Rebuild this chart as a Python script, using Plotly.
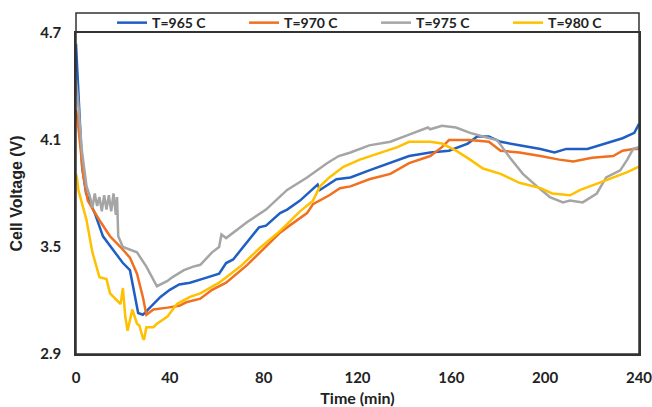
import plotly.graph_objects as go

# ---- data ----
t965 = [0, 0.7, 1.7, 2.6, 4.3, 6, 8, 11.5, 16, 20, 23, 25, 26.5, 28.5, 31.5, 36, 40, 44, 48.6, 53, 56, 61, 64, 67, 73, 78, 81, 87, 90, 95.5, 103, 104, 111, 117, 125, 134, 142, 151, 159, 167, 171, 176, 181, 189, 198, 204, 209, 218, 226, 233, 238, 240]
v965 = [4.64, 4.45, 4.14, 3.95, 3.80, 3.75, 3.69, 3.56, 3.48, 3.41, 3.37, 3.22, 3.13, 3.12, 3.16, 3.22, 3.26, 3.29, 3.30, 3.32, 3.33, 3.35, 3.41, 3.43, 3.53, 3.61, 3.62, 3.69, 3.71, 3.76, 3.85, 3.82, 3.88, 3.89, 3.93, 3.97, 4.01, 4.03, 4.04, 4.08, 4.12, 4.12, 4.09, 4.07, 4.05, 4.03, 4.05, 4.05, 4.08, 4.11, 4.14, 4.19]

t970 = [0, 0.8, 3, 5, 10, 14.5, 19, 23, 26, 28.5, 30, 33, 39, 44, 47, 53, 58, 64, 73, 81, 87, 90, 98.5, 101, 104, 108, 112.5, 117, 125, 134, 142, 151, 156, 159, 168, 176, 181, 189, 198, 206, 212, 220, 229, 233, 237.5, 240]
v970 = [4.27, 4.20, 3.91, 3.76, 3.65, 3.56, 3.50, 3.44, 3.35, 3.22, 3.12, 3.15, 3.16, 3.17, 3.19, 3.21, 3.26, 3.30, 3.40, 3.50, 3.58, 3.61, 3.69, 3.74, 3.76, 3.79, 3.83, 3.84, 3.88, 3.91, 3.97, 4.01, 4.06, 4.10, 4.10, 4.09, 4.04, 4.03, 4.01, 3.99, 3.98, 4.00, 4.01, 4.04, 4.05, 4.05]

t975 = [0, 0.8, 2.5, 4.5, 6, 7, 8, 9, 10, 11, 12, 13, 14, 15, 16, 17, 17.5, 18, 20, 26, 30, 34.5, 39, 41, 46, 50, 53, 58, 61, 62, 64, 73, 81, 90, 98.5, 107, 112, 117, 125, 134, 142, 150, 151, 156, 162, 168, 173.5, 179.5, 185, 190.5, 196.5, 202, 207.6, 210.6, 216, 222, 226, 232, 235, 237.5, 240]
v975 = [4.44, 4.33, 4.04, 3.84, 3.78, 3.72, 3.80, 3.73, 3.78, 3.70, 3.79, 3.71, 3.79, 3.70, 3.80, 3.68, 3.78, 3.56, 3.50, 3.47, 3.39, 3.28, 3.31, 3.33, 3.37, 3.39, 3.40, 3.47, 3.50, 3.57, 3.55, 3.64, 3.71, 3.82, 3.89, 3.97, 4.01, 4.03, 4.07, 4.09, 4.13, 4.17, 4.16, 4.18, 4.17, 4.14, 4.12, 4.10, 4.00, 3.91, 3.84, 3.78, 3.75, 3.76, 3.75, 3.80, 3.89, 3.93, 3.99, 4.05, 4.06]

t980 = [0, 0.5, 1, 4.5, 7, 10, 13, 14.5, 17.5, 19, 20, 21, 22, 24, 26, 27, 28.5, 29, 30, 33, 34.5, 39, 43, 48.6, 53, 61, 70, 78, 87, 95.5, 101, 104, 108, 114, 121, 129.6, 137, 142, 151, 156, 162, 168, 173.5, 181, 189, 198, 203, 210.6, 215, 223, 229, 235, 240]
v980 = [3.91, 3.88, 3.82, 3.65, 3.47, 3.33, 3.32, 3.24, 3.20, 3.18, 3.27, 3.11, 3.03, 3.15, 3.07, 3.06, 2.99, 2.98, 3.05, 3.05, 3.07, 3.11, 3.18, 3.22, 3.24, 3.30, 3.39, 3.49, 3.59, 3.70, 3.76, 3.84, 3.89, 3.95, 3.99, 4.03, 4.06, 4.09, 4.09, 4.08, 4.04, 3.99, 3.94, 3.91, 3.86, 3.83, 3.80, 3.79, 3.82, 3.86, 3.89, 3.92, 3.95]

series = [
    ("T=965 C", t965, v965, "#1F5FC4"),
    ("T=970 C", t970, v970, "#F07020"),
    ("T=975 C", t975, v975, "#A5A5A5"),
    ("T=980 C", t980, v980, "#FFC000"),
]

x_ticks = [0, 40, 80, 120, 160, 200, 240]
y_ticks = [2.9, 3.5, 4.1, 4.7]

fig = go.Figure()
for name, t, v, c in series:
    fig.add_trace(go.Scatter(x=t, y=v, name=name, mode="lines",
                             line=dict(color=c, width=2.5)))

font_family = "Lato, 'Open Sans', sans-serif"
fig.update_layout(
    width=652, height=407,
    margin=dict(l=76, r=13, t=33, b=53, autoexpand=False),
    paper_bgcolor="white", plot_bgcolor="white",
    showlegend=True,
    legend=dict(orientation="h", x=0.064, xanchor="left", y=1.031, yanchor="middle",
                font=dict(family=font_family, size=14, color="#222", weight="bold"),
                entrywidth=87, itemwidth=30, tracegroupgap=0, bgcolor="rgba(0,0,0,0)"),
    font=dict(family=font_family, color="#222"),
)
fig.update_xaxes(range=[0, 240], tickvals=x_ticks, showgrid=False, zeroline=False,
                 showline=True, linecolor="#333", linewidth=1.5, mirror=True,
                 ticks="outside", ticklen=9, tickcolor="rgba(0,0,0,0)", automargin=False,
                 ticklabeloverflow="allow",
                 tickfont=dict(family=font_family, size=15, color="#222", weight="bold"),
                 title=dict(text="<b>Time (min)</b>", standoff=9,
                            font=dict(family=font_family, size=16, color="#222")))
fig.update_yaxes(range=[2.9, 4.7], tickvals=y_ticks, ticktext=[f"{v:.1f}" for v in y_ticks],
                 showgrid=False, zeroline=False,
                 showline=True, linecolor="#333", linewidth=1.5, mirror=True,
                 ticks="outside", ticklen=10, tickcolor="rgba(0,0,0,0)", automargin=False,
                 ticklabeloverflow="allow",
                 tickfont=dict(family=font_family, size=15, color="#222", weight="bold"),
                 title=dict(text="<b>Cell Voltage (V)</b>", standoff=14,
                            font=dict(family="Liberation Sans, Arial, sans-serif", size=16, color="#222")))
# outer frame enclosing legend strip
fig.add_shape(type="rect", xref="paper", yref="paper", x0=0, x1=1, y0=0, y1=1 + 20 / 321,
              line=dict(color="#333", width=1.5), fillcolor="rgba(0,0,0,0)")

# remove the default 8px page margin so the figure fills the window exactly
fig.write_html("out.html", config={"displayModeBar": False},
               post_script="document.body.style.margin='0px';document.body.style.overflow='hidden';")
